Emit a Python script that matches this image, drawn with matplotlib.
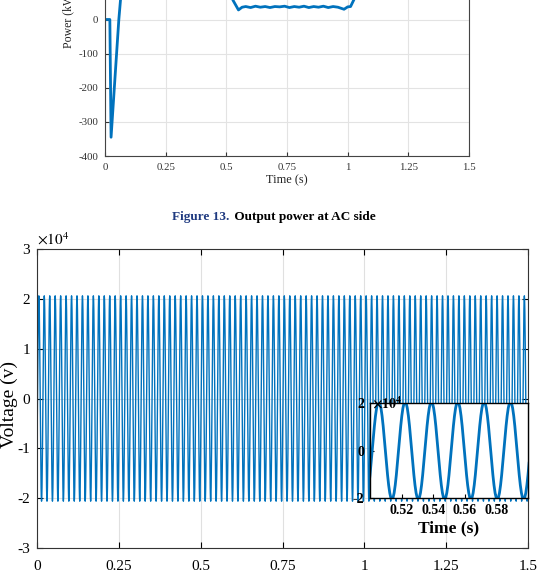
import numpy as np
from matplotlib import pyplot as plt

plt.rcParams['font.family'] = ['Liberation Serif', 'DejaVu Serif']
plt.rcParams['mathtext.fontset'] = 'stix'
plt.rcParams['axes.unicode_minus'] = False

# top chart (only the lower part is visible): output power at AC side
power_t = [0, 0.02, 0.025, 0.057, 0.075, 0.1, 0.5, 0.515, 0.527, 0.55, 0.565, 0.58,
           0.6, 0.62, 0.64, 0.66, 0.68, 0.7, 0.72, 0.74, 0.76, 0.78, 0.8, 0.82,
           0.84, 0.86, 0.88, 0.9, 0.92, 0.94, 0.96, 0.985, 1.0, 1.012, 1.027,
           1.04, 1.07, 1.5]
power_kw = [0, 0, -345, 0, 150, 250, 250, 200, 57, 28, 36, 38,
            35, 39, 36, 38, 35, 38, 37, 39, 35, 38, 36, 39,
            35, 38, 36, 39, 35, 38, 36, 30, 37, 38, 60,
            160, 250, 250]
power_xticks = [0, 0.25, 0.5, 0.75, 1, 1.25, 1.5]
power_xlabels = ['0', '0.25', '0.5', '0.75', '1', '1.25', '1.5']
power_yticks = [-400, -300, -200, -100, 0, 100, 200, 300, 400]

volt_peak = 2.06e4
cycle_shape = [0, 0.259, 0.5, 0.707, 0.866, 0.966, 1, 0.966, 0.866, 0.707, 0.5, 0.259,
               0, -0.259, -0.5, -0.707, -0.866, -0.966, -1, -0.966, -0.866, -0.707, -0.5, -0.259]
n_cycles = 90
freq = 60
start_index = 22
volt_xticks = [0, 0.25, 0.5, 0.75, 1, 1.25, 1.5]
volt_xlabels = ['0', '0.25', '0.5', '0.75', '1', '1.25', '1.5']
volt_yticks = [-3, -2, -1, 0, 1, 2, 3]
inset_xticks = [0.52, 0.54, 0.56, 0.58]
inset_xlabels = ['0.52', '0.54', '0.56', '0.58']
inset_yticks = [-2, 0, 2]

blue = '#0072BD'
W, H = 537, 573
fig = plt.figure(figsize=(W / 100, H / 100), dpi=100)

# ---- top chart, its upper half lies above the picture
ax1 = fig.add_axes([105 / W, 1 - 156 / H, 364 / W, 273 / H])
ax1.plot(power_t, power_kw, color=blue, linewidth=2)
ax1.set_xlim(0, 1.5)
ax1.set_ylim(-400, 400)
ax1.set_xticks(power_xticks)
ax1.set_xticklabels(power_xlabels)
ax1.set_yticks(power_yticks)
ax1.grid(color='#E3E3E3', linewidth=0.8)
ax1.tick_params(labelsize=7.8, colors='#333333', direction='in', length=3, pad=5)
for s in ax1.spines.values():
    s.set_color('#444444')
    s.set_linewidth(0.8)
ax1.set_xlabel('Time (s)', fontsize=8.8, color='#222222', labelpad=2)
ax1.set_ylabel('Power (kW)', fontsize=8.5, color='#222222', labelpad=3)

# caption
fig.text(229 / W, 1 - 217 / H, 'Figure 13.', fontsize=9.5, fontweight='bold',
         color='#1F3A80', ha='right', va='center')
fig.text(231 / W, 1 - 217 / H, ' Output power at AC side', fontsize=9.5, fontweight='bold',
         color='black', ha='left', va='center')

# ---- bottom chart
samples = np.tile(np.roll(cycle_shape, -start_index), n_cycles)
samples = np.append(samples, samples[0])
t = np.arange(len(samples)) / (freq * len(cycle_shape))
v = samples * volt_peak

ax2 = fig.add_axes([37 / W, 1 - 548 / H, 491 / W, 299 / H])
ax2.plot(t, v / 1e4, color=blue, linewidth=1.0)
ax2.set_xlim(0, 1.5)
ax2.set_ylim(-3, 3)
ax2.set_xticks(volt_xticks)
ax2.set_xticklabels(volt_xlabels)
ax2.set_yticks(volt_yticks)
ax2.grid(color='#E0E0E0', linewidth=0.8)
ax2.tick_params(labelsize=11, direction='in', length=4, top=True, right=True)
ax2.tick_params(axis='x', pad=9)
ax2.tick_params(axis='y', pad=5)
for s in ax2.spines.values():
    s.set_color('#333333')
fig.text(9 / W, 1 - 405 / H, 'Voltage (v)', fontsize=14, rotation=90,
         ha='center', va='center')
ax2.text(0.0, 1.005, r'$\times10^4$', transform=ax2.transAxes, fontsize=11,
         ha='left', va='bottom')

# inset zoom
ax3 = fig.add_axes([370 / W, 1 - 498 / H, 158 / W, 95 / H])
ax3.plot(t, v / 1e4, color=blue, linewidth=2)
ax3.set_xlim(0.5, 0.6)
ax3.set_ylim(-2, 2)
ax3.set_xticks(inset_xticks)
ax3.set_xticklabels(inset_xlabels)
ax3.set_yticks(inset_yticks)
ax3.tick_params(labelsize=10, direction='in', length=3, pad=4)
for lab in ax3.get_xticklabels() + ax3.get_yticklabels():
    lab.set_fontweight('bold')
for s in ax3.spines.values():
    s.set_color('black')
    s.set_linewidth(1)
ax3.set_xlabel('Time (s)', fontsize=12.5, fontweight='bold', labelpad=3)
ax3.text(0.01, 1.0, r'$\mathbf{\times10^4}$', transform=ax3.transAxes, fontsize=10,
         ha='left', va='center')

fig.savefig('out.png', dpi=100)
